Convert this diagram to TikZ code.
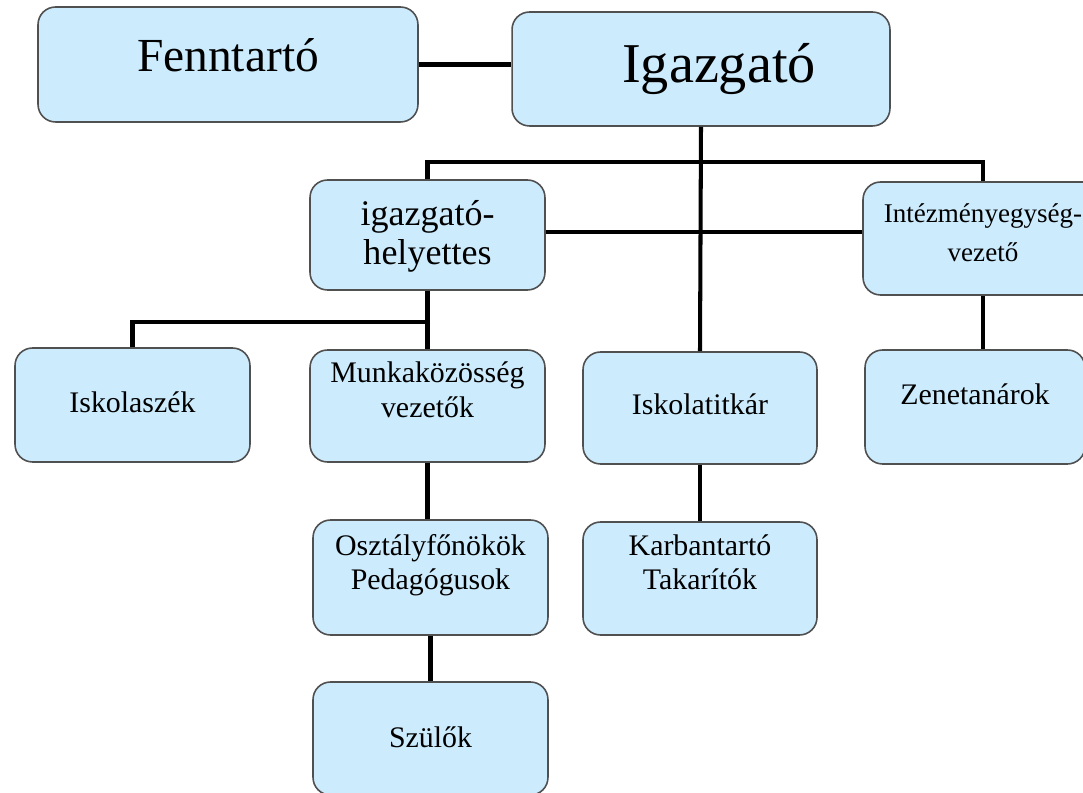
\documentclass[tikz,border=0pt]{standalone}
\usepackage{fontspec}
\usepackage{tikz}
\usetikzlibrary{positioning,calc}
\setmainfont{Liberation Serif}
\definecolor{boxblue}{HTML}{CCEBFD}
\definecolor{boxline}{HTML}{505050}

\begin{document}
\begin{tikzpicture}[x=0.02cm, y=-0.02cm,
        unit/.style={draw=boxline, line width=0.9pt, fill=boxblue, rounded corners=0.35cm,
            align=center, inner sep=0pt, font=\fontsize{17}{20}\selectfont,
            minimum width=4.7cm, minimum height=2.26cm},
        link/.style={line width=2.3pt, black}]
        \clip (0,0) rectangle (1083,793);

        % Top row
        \node[unit, minimum width=7.6cm, minimum height=2.3cm, font=\fontsize{27}{30}\selectfont,
            text height=0.6cm, text depth=0.3cm] (fenn) at (228,64.5) {Fenntartó};
        \node[unit, minimum width=7.56cm, minimum height=2.28cm, font=\fontsize{32}{36}\selectfont,
            text height=0.9cm, text depth=0.34cm] (igaz) at (701,69) {\hspace*{0.72cm}Igazgató};

        % Second row
        \node[unit, minimum height=2.2cm, font=\fontsize{20.5}{22.7}\selectfont,
            text height=1.5cm, text depth=0.3cm] (helyettes) at (427.5,235) {igazgató-\\helyettes};
        \node[unit, minimum width=4.8cm, font=\fontsize{15.4}{22.7}\selectfont,
            text height=1.3cm, text depth=0.36cm] (intezmeny) at (983,238.5) {Intézményegység-\\vezető};

        % Third row
        \node[unit, minimum height=2.28cm, text height=0.5cm, text depth=0.18cm]
            (iskolaszek) at (132.5,405) {Iskolaszék};
        \node[unit, minimum height=2.24cm, text height=1.2cm, text depth=0.72cm]
            (munka) at (427.5,406) {Munkaközösség\\vezetők};
        \node[unit, minimum width=4.68cm, minimum height=2.24cm, text height=0.5cm, text depth=0.22cm]
            (titkar) at (700,408) {Iskolatitkár};
        \node[unit, minimum width=4.4cm, minimum height=2.28cm, text height=0.5cm, text depth=0.58cm]
            (zene) at (975,407) {Zenetanárok};

        % Fourth row
        \node[unit, minimum height=2.3cm, font=\fontsize{17}{19.4}\selectfont,
            text height=1.2cm, text depth=0.7cm] (osztaly) at (430.5,577.5) {Osztályfőnökök\\Pedagógusok};
        \node[unit, minimum width=4.68cm, font=\fontsize{17}{19.4}\selectfont,
            text height=1.2cm, text depth=0.74cm] (karban) at (700,578.5) {Karbantartó\\Takarítók};

        % Bottom row
        \node[unit, text height=0.5cm, text depth=0.12cm] (szulok) at (430.5,738.5) {Szülők};

        % Connectors
        \coordinate (topbus) at (0,162);
        \coordinate (lowbus) at (0,322);
        \draw[link] (fenn.east) -- (fenn.east -| igaz.west);
        \draw[link] (igaz.south) -- (titkar.north);
        \draw[link] (helyettes.north) |- (topbus -| intezmeny.north) -- (intezmeny.north);
        \draw[link] ([yshift=0.06cm]helyettes.east) -- ([yshift=0.06cm]helyettes.east -| intezmeny.west);
        \draw[link] (iskolaszek.north) |- (lowbus -| helyettes.south);
        \draw[link] (munka.south) -- (munka.south |- osztaly.north);
        \draw[link] (intezmeny.south) -- (intezmeny.south |- zene.north);
        \foreach \a/\b in {helyettes/munka, osztaly/szulok, titkar/karban} {
            \draw[link] (\a.south) -- (\b.north);
        }
    \end{tikzpicture}
\end{document}
